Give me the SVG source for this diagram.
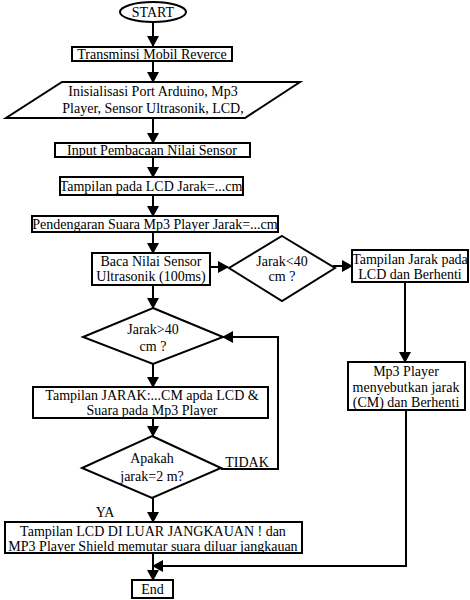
<svg xmlns="http://www.w3.org/2000/svg" width="470" height="600" viewBox="0 0 470 600">
<style>
.s{fill:#fff;stroke:#000;stroke-width:2}
.c{fill:none;stroke:#000;stroke-width:2}
text{font-family:"Liberation Serif","Times New Roman",serif;font-size:14px;fill:#000;text-anchor:middle}
</style>
<defs>
<marker id="a" markerUnits="userSpaceOnUse" markerWidth="11" markerHeight="12" refX="10" refY="6" orient="auto">
<path d="M0,0 L11,6 L0,12 z" fill="#000"/>
</marker>
</defs>
<rect width="470" height="600" fill="#fff"/>
<g id="connectors" class="c">
<path class="c" d="M153,22 L153,46" marker-end="url(#a)"/>
<path class="c" d="M153,61 L153,82" marker-end="url(#a)"/>
<path class="c" d="M153,118 L153,143" marker-end="url(#a)"/>
<path class="c" d="M153,157 L153,177" marker-end="url(#a)"/>
<path class="c" d="M153,195 L153,216" marker-end="url(#a)"/>
<path class="c" d="M153,232 L153,253" marker-end="url(#a)"/>
<path class="c" d="M210,267 L228,267" marker-end="url(#a)"/>
<path class="c" d="M333,266 L352,266" marker-end="url(#a)"/>
<path class="c" d="M405,282 L405,362" marker-end="url(#a)"/>
<path class="c" d="M153,285 L153,308" marker-end="url(#a)"/>
<path class="c" d="M153,363 L153,387" marker-end="url(#a)"/>
<path class="c" d="M153,418 L153,436" marker-end="url(#a)"/>
<path class="c" d="M221,469 L278,469 L278,337 L223,337" marker-end="url(#a)"/>
<path class="c" d="M153,498 L153,522" marker-end="url(#a)"/>
<path class="c" d="M153,553 L153,580" marker-end="url(#a)"/>
<path class="c" d="M406,410 L406,566 L153,566" marker-end="url(#a)"/>
</g>
<g id="start"><ellipse class="s" cx="153" cy="12" rx="33" ry="10"/><text x="153" y="17">START</text></g>
<g id="transmisi"><rect class="s" x="72" y="47" width="160" height="14"/><text x="152" y="58.5">Transminsi Mobil Reverce</text></g>
<g id="inisialisasi"><polygon class="s" points="62,82 300,82 245,118 6,118"/><text x="153" y="96">Inisialisasi Port Arduino, Mp3</text><text x="153" y="113">Player, Sensor Ultrasonik, LCD,</text></g>
<g id="input"><rect class="s" x="55" y="143" width="195" height="14"/><text x="152" y="154.5">Input Pembacaan Nilai Sensor</text></g>
<g id="tampilan-lcd"><rect class="s" x="60" y="177" width="183" height="18"/><text x="151" y="190.5">Tampilan pada LCD Jarak=...cm</text></g>
<g id="pendengaran"><rect class="s" x="32" y="216" width="246" height="16"/><text x="155" y="228.5">Pendengaran Suara Mp3 Player Jarak=...cm</text></g>
<g id="baca"><rect class="s" x="92" y="253" width="118" height="32"/><text x="151" y="266">Baca Nilai Sensor</text><text x="151" y="281">Ultrasonik (100ms)</text></g>
<g id="jarak-kurang"><polygon class="s" points="282,236 335,268 282,301 229,268"/><text x="282" y="266">Jarak&lt;40</text><text x="282" y="281">cm ?</text></g>
<g id="tampilan-jarak"><rect class="s" x="352" y="250" width="116" height="32"/><text x="410" y="264">Tampilan Jarak pada</text><text x="410" y="279">LCD dan Berhenti</text></g>
<g id="mp3-player"><rect class="s" x="348" y="362" width="117" height="48"/><text x="406" y="376">Mp3 Player</text><text x="406" y="392">menyebutkan jarak</text><text x="406" y="407">(CM) dan Berhenti</text></g>
<g id="jarak-lebih"><polygon class="s" points="153,308 223,337 153,364 83,337"/><text x="153" y="334">Jarak&gt;40</text><text x="153" y="351">cm ?</text></g>
<g id="tampilan-jarak-cm"><rect class="s" x="33" y="387" width="235" height="31"/><text x="152" y="400">Tampilan JARAK:...CM apda LCD &amp;</text><text x="152" y="415">Suara pada Mp3 Player</text></g>
<g id="apakah"><polygon class="s" points="152,436 221,468 152,498 82,468"/><text x="152" y="463">Apakah</text><text x="152" y="481">jarak=2 m?</text></g>
<text x="247" y="467">TIDAK</text>
<text x="105" y="517">YA</text>
<g id="tampilan-luar"><rect class="s" x="5" y="522" width="297" height="31"/><text x="153" y="536">Tampilan LCD DI LUAR JANGKAUAN ! dan</text><text x="153" y="551">MP3 Player Shield memutar suara diluar jangkauan</text></g>
<g id="end"><rect class="s" x="132" y="580" width="41" height="18"/><text x="152.5" y="593.5">End</text></g>
</svg>
